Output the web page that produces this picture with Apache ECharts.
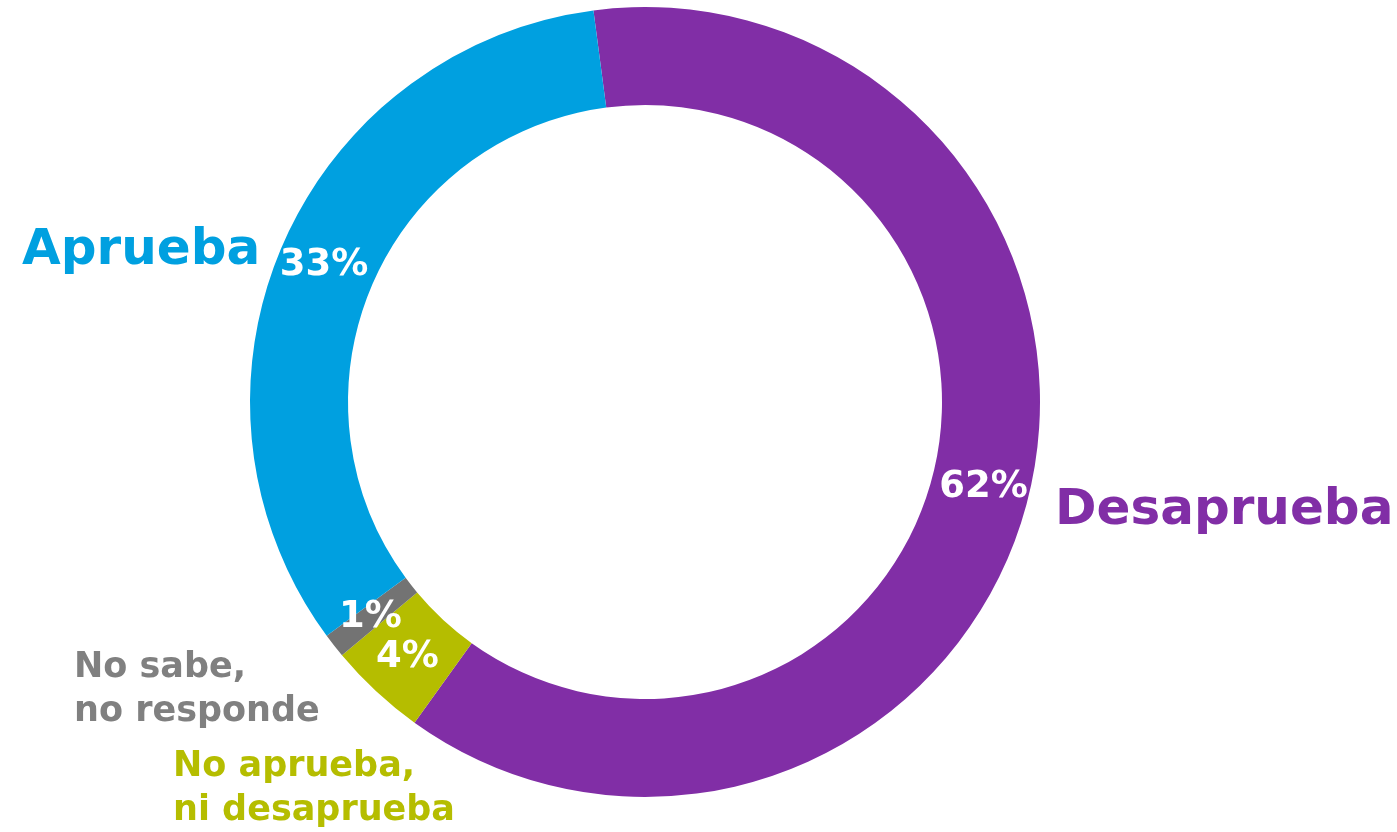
<!DOCTYPE html>
<html>
<head>
<meta charset="utf-8">
<script src="https://cdn.jsdelivr.net/npm/echarts@6/dist/echarts.min.js"></script>
<style>
  html, body { margin: 0; padding: 0; background: #fff; }
  #chart { width: 1397px; height: 832px; }
</style>
</head>
<body>
<div id="chart"></div>
<script>
// data, clockwise from the top
const categories = ['Desaprueba', 'No aprueba, ni desaprueba', 'No sabe, no responde', 'Aprueba'];
const values = [62, 4, 1, 33];
const colors = ['#812ea6', '#b5bd00', '#737373', '#00a0e0'];
// outside names as they are written on the picture
const nameTexts = ['Desaprueba', 'No aprueba,\nni desaprueba', 'No sabe,\nno responde', 'Aprueba'];
const nameColors = ['#812ea6', '#b5bd00', '#808080', '#00a0e0'];

const font = '"DejaVu Sans", sans-serif';
const myChart = echarts.init(document.getElementById('chart'), null, { renderer: 'canvas' });

const namePos = [
  { x: 1055, y: 511, size: 50 },
  { x: 173, y: 789, size: 35 },
  { x: 74, y: 690, size: 35 },
  { x: 22, y: 251, size: 50 }
];

const option = {
  animation: false,
  series: [
    {
      type: 'pie',
      center: [645, 402],
      radius: [297, 395],
      startAngle: 97.5,
      clockwise: true,
      silent: true,
      data: categories.map((c, i) => ({
        name: c,
        value: values[i],
        itemStyle: { color: colors[i] }
      })),
      label: {
        show: true,
        position: 'inside',
        formatter: '{c}%',
        color: '#fff',
        fontFamily: font,
        fontWeight: 'bold',
        fontSize: 37
      },
      labelLine: { show: false }
    }
  ],
  graphic: nameTexts.map((t, i) => ({
    type: 'text',
    left: null,
    x: namePos[i].x,
    y: namePos[i].y,
    style: {
      text: t,
      fill: nameColors[i],
      font: 'bold ' + namePos[i].size + 'px ' + font,
      lineHeight: 44,
      textAlign: 'left',
      textVerticalAlign: 'middle'
    }
  }))
};

myChart.setOption(option);
</script>
</body>
</html>
